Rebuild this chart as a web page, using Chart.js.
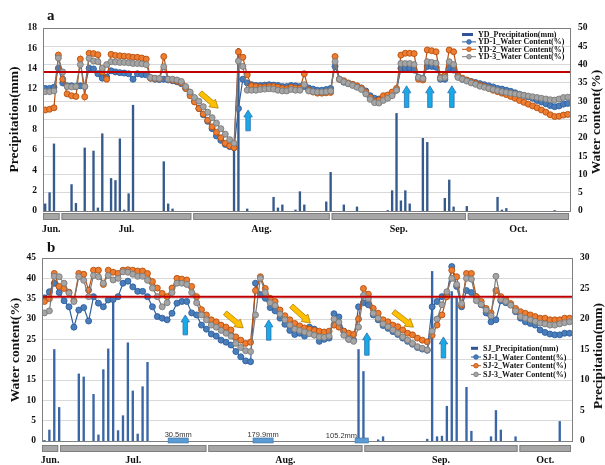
<!DOCTYPE html>
<html>
<head>
<meta charset="utf-8">
<script src="https://cdn.jsdelivr.net/npm/chart.js@4.4.1/dist/chart.umd.min.js"></script>
<style>
  html, body { margin: 0; padding: 0; background: #fff; }
  #wrap { position: relative; width: 605px; height: 465px; overflow: hidden; }
  #chartA { position: absolute; left: 0; top: 0; }
  #chartB { position: absolute; left: 0; top: 232px; }
</style>
</head>
<body>
<div id="wrap">
  <canvas id="chartA" width="605" height="240" style="width:605px;height:240px"></canvas>
  <canvas id="chartB" width="605" height="233" style="width:605px;height:233px"></canvas>
</div>
<script>
// ===== data: panel a (YD) =====
const ydRainDay = [0,1,2,6,7,9,11,12,13,15,16,17,18,19,20,27,28,29,43,44,46,52,53,54,57,58,59,64,65,68,71,78,79,80,81,82,83,86,87,91,92,93,96,103,104,105,116];
const ydRainMm = [0.7,1.8,6.6,2.6,0.75,6.2,5.9,0.3,7.6,3.2,3.0,7.1,0.1,1.7,10.4,4.85,0.7,0.2,6.3,16.0,0.2,1.35,0.3,0.6,0.1,1.9,0.6,0.9,3.8,0.6,0.4,0.05,2.0,9.6,1.0,2.0,0.7,7.15,6.75,1.25,3.05,0.4,0.45,1.35,0.1,0.25,0.05];
const yd1 = [
  33.5,33.5,33.8,39.0,35.0,34.2,34.2,34.0,34.2,34.0,
  39.0,38.8,37.5,36.3,36.6,38.3,38.0,37.8,37.7,37.5,
  36.0,37.5,37.3,37.2,36.3,36.0,35.9,36.0,35.8,35.6,
  35.3,34.8,33.5,32.0,30.0,28.0,26.3,24.5,22.5,20.5,
  19.3,18.2,17.6,17.3,28.0,36.0,35.0,34.5,34.3,34.3,
  34.4,34.5,34.4,34.3,34.0,34.0,34.3,34.2,34.0,34.0,
  33.6,33.3,33.0,33.0,33.2,33.5,39.5,36.0,35.2,34.8,
  34.5,34.0,33.6,32.8,31.5,30.8,30.6,31.0,31.3,32.0,
  33.0,39.0,39.0,39.0,38.5,36.5,36.3,39.5,39.5,39.3,
  36.0,36.0,39.0,38.5,36.7,36.0,35.7,35.4,35.1,34.8,
  34.5,34.2,33.9,33.5,33.3,33.0,32.7,32.3,31.9,31.6,
  31.2,30.8,30.2,29.8,29.3,28.8,28.5,28.7,29.2,29.4];
const yd2 = [
  27.6,27.8,28.2,42.6,36.0,32.0,31.5,31.3,41.5,31.2,
  43.1,43.0,42.7,38.0,36.0,42.8,42.5,42.4,42.3,42.2,
  42.0,42.0,41.8,41.5,36.3,36.2,36.1,42.2,36.0,35.8,
  35.5,35.0,33.5,31.5,29.8,28.0,26.5,24.8,23.0,21.5,
  20.0,18.5,17.8,17.3,43.5,42.0,37.2,34.2,34.0,33.8,
  33.9,34.0,34.0,33.8,33.5,33.4,33.8,33.6,33.5,37.5,
  33.0,32.5,32.2,32.2,32.3,32.4,42.2,36.0,35.6,35.0,
  34.6,34.2,33.6,32.5,31.0,30.0,30.3,31.5,31.7,32.5,
  33.5,42.6,43.1,43.1,43.0,36.0,35.8,44.0,43.8,43.5,
  36.5,37.0,44.0,43.5,37.0,36.3,35.8,35.3,34.9,34.4,
  34.0,33.5,33.0,32.6,32.2,31.8,31.3,30.8,30.2,29.7,
  29.2,28.7,28.2,27.6,27.0,26.3,25.8,25.9,26.2,26.4];
const yd3 = [
  32.6,32.6,32.8,41.8,38.0,34.0,33.9,34.0,40.0,34.0,
  41.7,41.0,40.8,39.0,40.0,40.8,40.7,40.6,40.6,40.5,
  40.3,40.3,40.2,40.0,36.5,36.3,36.2,39.4,36.0,36.0,
  35.8,35.4,34.0,32.5,31.0,30.0,28.5,27.0,25.5,24.0,
  22.5,21.0,19.5,18.5,41.0,39.5,33.0,33.0,33.0,33.2,
  33.3,33.4,33.3,33.0,32.8,32.8,33.2,33.0,33.0,34.5,
  32.8,32.6,32.5,32.5,32.6,32.8,40.8,36.0,35.3,34.8,
  34.3,33.8,33.2,32.0,30.5,29.6,29.5,30.2,30.8,31.5,
  33.0,40.3,40.3,40.3,40.0,36.5,36.2,40.8,40.6,40.4,
  36.3,36.5,40.8,40.0,36.5,36.0,35.5,35.0,34.6,34.1,
  33.8,33.5,33.2,32.9,32.6,32.4,32.2,32.0,31.8,31.6,
  31.4,31.2,31.0,30.8,30.6,30.4,30.3,30.6,31.0,31.1];

// ===== data: panel b (SJ) =====
const sjRainDay = [0,1,2,3,7,8,10,11,12,13,14,15,16,17,18,19,20,21,64,65,68,69,78,79,80,81,82,83,84,86,87,91,92,93,96,105];
const sjRainMm = [0.1,1.8,15.0,5.5,11.0,10.5,7.65,1.0,11.7,15.1,23.0,1.7,4.15,16.1,8.2,1.15,8.9,12.9,15.0,11.4,0.2,0.7,0.3,27.8,0.7,0.8,5.7,24.5,23.5,8.8,1.6,0.7,5.0,1.8,0.7,3.2];
const sj1 = [
  35.2,36.7,38.8,36.5,34.5,33.0,28.0,32.2,32.8,29.5,
  35.5,33.9,33.0,34.7,34.8,35.5,38.8,39.3,37.9,36.8,
  36.8,35.5,33.0,30.6,30.2,29.8,31.4,33.9,34.3,34.3,
  31.5,31.0,28.5,27.5,26.3,25.8,24.8,24.3,23.6,22.0,
  20.7,19.7,19.5,38.8,36.0,35.1,32.8,32.0,30.2,28.7,
  27.2,26.2,26.5,25.8,28.0,27.5,24.5,25.0,25.3,31.3,
  30.5,27.0,25.0,24.8,33.0,34.0,33.5,31.0,29.8,28.4,
  27.7,26.9,26.2,25.3,24.5,23.8,23.0,22.6,22.3,33.0,
  34.3,35.5,36.0,42.9,38.0,33.0,37.0,36.5,35.5,33.5,
  31.5,29.3,29.8,34.5,34.0,33.6,31.8,30.2,29.3,28.9,
  28.5,27.3,26.7,26.3,26.1,26.1,26.5,26.5];
const sj2 = [
  34.3,35.0,41.2,38.0,37.5,36.6,34.5,41.2,41.0,37.1,
  42.0,42.0,38.5,42.0,41.5,41.2,42.0,42.1,42.0,41.8,
  41.8,41.2,39.2,37.6,36.3,35.5,37.6,40.0,39.8,39.6,
  38.0,35.5,32.3,31.0,29.8,29.3,28.5,28.0,27.3,25.6,
  24.8,24.0,24.3,37.0,40.4,37.5,35.1,34.3,32.2,30.8,
  29.8,28.9,28.3,27.8,27.5,27.2,27.0,26.8,27.0,28.5,
  28.0,27.0,26.5,26.2,30.0,37.5,36.1,32.6,31.4,29.8,
  29.3,28.5,28.1,27.3,26.5,26.1,25.3,24.8,24.4,26.0,
  28.5,31.0,35.5,42.0,40.4,33.4,41.2,41.2,35.5,34.3,
  32.6,31.5,37.0,35.5,34.8,33.8,32.6,31.8,31.4,31.0,
  30.6,30.2,30.2,29.8,29.8,29.8,30.2,30.2];
const sj3 = [
  31.5,32.0,40.5,40.4,38.8,36.4,34.3,40.4,39.5,35.5,
  40.7,40.4,38.8,40.7,39.6,40.0,41.6,41.5,41.0,40.5,
  40.5,39.5,37.6,35.5,33.0,34.0,36.5,38.8,38.8,38.5,
  36.5,34.0,31.0,29.8,28.5,28.0,27.2,26.5,25.8,24.0,
  23.0,22.2,22.0,31.0,40.0,36.5,34.0,33.3,31.2,29.8,
  28.5,27.5,27.2,26.8,26.4,26.0,25.6,25.5,25.8,30.0,
  29.2,26.0,25.0,24.5,28.0,35.8,35.0,31.4,30.2,28.8,
  28.1,27.3,26.5,25.6,24.8,24.0,23.2,22.8,22.4,27.0,
  30.0,33.5,36.7,40.0,38.5,33.8,40.0,39.8,34.5,33.6,
  32.2,30.8,40.5,34.8,34.3,33.4,32.0,30.6,30.2,29.8,
  29.4,29.0,28.8,28.5,28.5,28.8,29.1,29.3];

// month segments (day index bounds) and labels
const monthNames = ['Jun.', 'Jul.', 'Aug.', 'Sep.', 'Oct.'];
const ydMonthBounds = [-0.5, 3.5, 33.5, 65, 96, 119.5];
const sjMonthBounds = [-0.5, 3, 33.2, 65, 96.6, 107.5];

// reference lines (water content %)
const ydLimit = 38;
const sjLimit = 35.5;

// annotations: [day, from %, to %] and [day0, %0, day1, %1]
const ydUpArrows = [[46.2, 21.9, 27.6], [82.3, 28.3, 34.2], [87.6, 28.3, 34.2], [92.6, 28.3, 34.2]];
const ydDownArrows = [[35.3, 32.3, 39.4, 28.1]];
const sjUpArrows = [[28.7, 26.1, 31.0], [45.7, 24.8, 29.8], [65.7, 21.1, 26.6], [81.3, 20.4, 25.6]];
const sjDownArrows = [[36.8, 31.5, 40.5, 27.8], [50.3, 33.2, 54.2, 29.0], [71.1, 31.8, 75.2, 28.0]];
const sjIrrigFrom = [25.2, 42.5, 63.3];
const sjIrrigTo = [29.3, 46.6, 66.0];
const sjIrrigText = ['30.5mm', '179.9mm', '105.2mm'];

Chart.defaults.font.family = '"Liberation Serif", "Times New Roman", serif';
Chart.defaults.color = '#111';

function blockArrow(ctx, x1, y1, x2, y2, shaft, head, headLen, fill, edge) {
    const ang = Math.atan2(y2 - y1, x2 - x1);
    const len = Math.hypot(x2 - x1, y2 - y1);
    ctx.save();
    ctx.translate(x1, y1);
    ctx.rotate(ang);
    ctx.beginPath();
    ctx.moveTo(0, -shaft / 2);
    ctx.lineTo(len - headLen, -shaft / 2);
    ctx.lineTo(len - headLen, -head / 2);
    ctx.lineTo(len, 0);
    ctx.lineTo(len - headLen, head / 2);
    ctx.lineTo(len - headLen, shaft / 2);
    ctx.lineTo(0, shaft / 2);
    ctx.closePath();
    ctx.fillStyle = fill;
    ctx.fill();
    ctx.strokeStyle = edge;
    ctx.lineWidth = 0.8;
    ctx.stroke();
    ctx.restore();
}

const panelDeco = {
    id: 'panelDeco',
    afterDatasetsDraw(chart, args, o) {
        const { ctx, chartArea: a, scales: { x, yW } } = chart;
        ctx.save();
        const yl = yW.getPixelForValue(o.limit);
        ctx.strokeStyle = '#c00000';
        ctx.lineWidth = 2;
        ctx.beginPath();
        ctx.moveTo(a.left, yl);
        ctx.lineTo(a.right, yl);
        ctx.stroke();
        o.up.forEach(([d, v0, v1]) => {
            const px = x.getPixelForValue(d);
            blockArrow(ctx, px, yW.getPixelForValue(v0), px, yW.getPixelForValue(v1), 4.5, 8.5, 7, '#19a9e6', '#2e6fad');
        });
        o.down.forEach(([d0, v0, d1, v1]) => {
            blockArrow(ctx, x.getPixelForValue(d0), yW.getPixelForValue(v0), x.getPixelForValue(d1), yW.getPixelForValue(v1), 5, 10, 8, '#ffc000', '#b8860b');
        });
        ctx.restore();
    },
    afterDraw(chart, args, o) {
        const { ctx, chartArea: a, scales: { x } } = chart;
        ctx.save();
        // plot frame
        ctx.strokeStyle = '#7f7f7f';
        ctx.lineWidth = 1;
        ctx.strokeRect(Math.round(a.left) + 0.5, Math.round(a.top) + 0.5, Math.round(a.right - a.left), Math.round(a.bottom - a.top));

        // irrigation marks
        if (o.irrig) {
            ctx.font = '7.5px "Liberation Sans", Arial, sans-serif';
            ctx.textBaseline = 'alphabetic';
            o.irrig.from.forEach((d, k) => {
                const x0 = x.getPixelForValue(d), x1 = x.getPixelForValue(o.irrig.to[k]);
                ctx.fillStyle = '#5b9bd5';
                ctx.fillRect(x0, a.bottom - 3, x1 - x0, 5);
                ctx.strokeStyle = '#41719c';
                ctx.lineWidth = 0.6;
                ctx.strokeRect(x0, a.bottom - 3, x1 - x0, 5);
                ctx.fillStyle = '#333';
                if (k === o.irrig.text.length - 1) {
                    ctx.textAlign = 'right';
                    ctx.fillText(o.irrig.text[k], x0 + 2, a.bottom - 3);
                } else {
                    ctx.textAlign = 'center';
                    ctx.fillText(o.irrig.text[k], (x0 + x1) / 2, a.bottom - 4.5);
                }
            });
        }

        // month bars + labels
        ctx.font = 'bold 10px "Liberation Serif", serif';
        ctx.textAlign = 'center';
        ctx.textBaseline = 'middle';
        for (let k = 0; k < monthNames.length; k++) {
            const x0 = x.getPixelForValue(o.months[k]) + (k ? 1 : 0);
            const x1 = x.getPixelForValue(o.months[k + 1]) - 1;
            ctx.fillStyle = '#a6a6a6';
            ctx.fillRect(x0, a.bottom + o.barOff, x1 - x0, 7);
            ctx.strokeStyle = '#767676';
            ctx.lineWidth = 0.8;
            ctx.strokeRect(x0 + 0.4, a.bottom + o.barOff + 0.4, x1 - x0 - 0.8, 6.2);
            ctx.fillStyle = '#111';
            ctx.fillText(monthNames[k], (x0 + x1) / 2, a.bottom + o.labelOff);
        }

        // legend
        const lg = o.legend;
        ctx.font = 'bold 8px "Liberation Serif", serif';
        ctx.textAlign = 'left';
        chart.data.datasets.forEach((ds, k) => {
            const yy = lg.y + k * lg.row;
            if (ds.type === 'bar') {
                ctx.fillStyle = '#2f5597';
                ctx.fillRect(lg.x, yy - 1.5, lg.len - 3, 3);
            } else {
                ctx.strokeStyle = ds.borderColor;
                ctx.lineWidth = 1;
                ctx.beginPath();
                ctx.moveTo(lg.x, yy);
                ctx.lineTo(lg.x + lg.len, yy);
                ctx.stroke();
                ctx.beginPath();
                ctx.arc(lg.x + lg.len / 2, yy, 2.3, 0, Math.PI * 2);
                ctx.fillStyle = ds.pointBackgroundColor;
                ctx.fill();
                ctx.strokeStyle = ds.pointBorderColor;
                ctx.lineWidth = 0.8;
                ctx.stroke();
            }
            ctx.fillStyle = '#111';
            ctx.fillText(ds.label, lg.textX, yy + 0.5);
        });

        // axis titles (both read bottom to top)
        ctx.font = 'bold 13.5px "Liberation Serif", serif';
        ctx.textAlign = 'center';
        ctx.fillStyle = '#111';
        o.titles.forEach(t => {
            ctx.save();
            ctx.translate(t.x, t.y);
            ctx.rotate(-Math.PI / 2);
            ctx.fillText(t.text, 0, 0);
            ctx.restore();
        });

        // panel letter
        ctx.font = 'bold 15px "Liberation Serif", serif';
        ctx.textAlign = 'left';
        ctx.textBaseline = 'alphabetic';
        ctx.fillText(o.letter, 47, 20);
        ctx.restore();
    }
};

const tickFont = { size: 9.5, weight: 'bold' };

function lineSet(label, values, fill, edge, order) {
    return {
        type: 'line',
        label,
        order,
        yAxisID: 'yW',
        data: values.map((v, i) => ({ x: i, y: v })),
        borderColor: edge,
        borderWidth: 1.2,
        pointRadius: 3,
        pointBorderWidth: 0.9,
        pointBackgroundColor: fill,
        pointBorderColor: edge,
        tension: 0
    };
}

function barSet(label, days, mm, color) {
    return {
        type: 'bar',
        label,
        order: 9,
        yAxisID: 'yP',
        data: days.map((d, i) => ({ x: d, y: mm[i] })),
        backgroundColor: color,
        borderWidth: 0,
        barThickness: 1.7
    };
}

function axis(pos, max, step, width, grid, pad) {
    return {
        position: pos,
        min: 0,
        max,
        ticks: { stepSize: step, font: tickFont, color: '#111', padding: pad },
        grid: { display: grid, color: '#d9d9d9', lineWidth: 1, drawTicks: false },
        border: { display: false },
        afterFit: s => { s.width = width; }
    };
}

// ===== panel a =====
new Chart(document.getElementById('chartA'), {
    type: 'line',
    data: {
        datasets: [
            barSet('YD_Precipitation(mm)', ydRainDay, ydRainMm, '#355a8c'),
            lineSet('YD-1_Water Content(%)', yd1, '#4a7ebb', '#2f5f9e', 3),
            lineSet('YD-2_Water Content(%)', yd2, '#ed7d31', '#b8500f', 2),
            lineSet('YD-3_Water Content(%)', yd3, '#a5a5a5', '#7a7a7a', 1)
        ]
    },
    options: {
        responsive: false,
        animation: false,
        events: [],
        layout: { padding: { top: 28, bottom: 29, left: 0, right: 0 } },
        scales: {
            x: { type: 'linear', min: -0.5, max: 119.5, display: false, offset: false },
            yP: axis('left', 18, 2, 43, false, 6),
            yW: axis('right', 50, 5, 35, true, 8)
        },
        plugins: {
            legend: { display: false },
            tooltip: { enabled: false },
            panelDeco: {
                limit: ydLimit,
                up: ydUpArrows,
                down: ydDownArrows,
                months: ydMonthBounds,
                barOff: 2,
                labelOff: 18,
                legend: { x: 462, y: 34.5, row: 7.4, len: 14, textX: 478 },
                titles: [
                    { text: 'Precipitation(mm)', x: 15, y: 119.5 },
                    { text: 'Water content(%)', x: 597, y: 122 }
                ],
                letter: 'a'
            }
        }
    },
    plugins: [panelDeco]
});

// ===== panel b =====
new Chart(document.getElementById('chartB'), {
    type: 'line',
    data: {
        datasets: [
            barSet('SJ_Precipitation(mm)', sjRainDay, sjRainMm, '#3a66a6'),
            lineSet('SJ-1_Water Content(%)', sj1, '#4a7ebb', '#2f5f9e', 3),
            lineSet('SJ-2_Water Content(%)', sj2, '#ed7d31', '#b8500f', 2),
            lineSet('SJ-3_Water Content(%)', sj3, '#a5a5a5', '#7a7a7a', 1)
        ]
    },
    options: {
        responsive: false,
        animation: false,
        events: [],
        layout: { padding: { top: 26, bottom: 24, left: 0, right: 0 } },
        scales: {
            x: { type: 'linear', min: -0.5, max: 107.5, display: false, offset: false },
            yW: axis('left', 45, 5, 42, true, 6),
            yP: axis('right', 30, 5, 33, false, 8)
        },
        plugins: {
            legend: { display: false },
            tooltip: { enabled: false },
            panelDeco: {
                limit: sjLimit,
                up: sjUpArrows,
                down: sjDownArrows,
                months: sjMonthBounds,
                barOff: 4,
                labelOff: 19,
                irrig: { from: sjIrrigFrom, to: sjIrrigTo, text: sjIrrigText },
                legend: { x: 471, y: 116.3, row: 8.7, len: 10, textX: 483 },
                titles: [
                    { text: 'Water content(%)', x: 16, y: 118 },
                    { text: 'Precipitation(mm)', x: 599, y: 124 }
                ],
                letter: 'b'
            }
        }
    },
    plugins: [panelDeco]
});
</script>
</body>
</html>
